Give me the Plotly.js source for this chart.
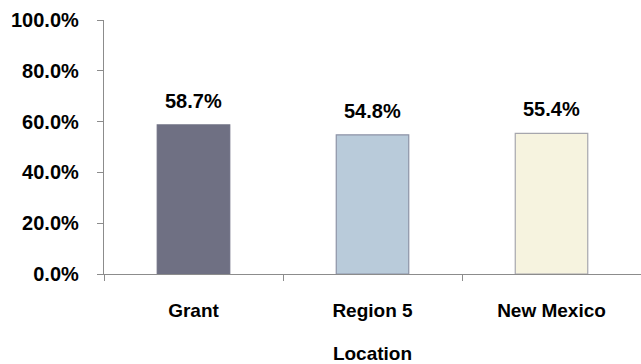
<!DOCTYPE html>
<html><head><meta charset="utf-8">
<script src="https://cdn.plot.ly/plotly-3.0.1.min.js"></script>
<style>html,body{margin:0;padding:0;background:#fff}#c{width:641px;height:364px}</style>
</head><body><div id="c"></div>
<script>
const categories = ["Grant", "Region 5", "New Mexico"];
const values = [58.7, 54.8, 55.4];
const fillColors = ["#6f7083", "#b9cbda", "#f6f3df"];
const lineColors = ["#6f7083", "#8d93a6", "#a6a6ad"];
const yTickVals = [0, 20, 40, 60, 80, 100];

const FONT = "Liberation Sans, Arial, sans-serif";
const trace = {
  type: "bar",
  x: categories,
  y: values,
  width: 0.405,
  marker: {color: fillColors, line: {color: lineColors, width: 1.2}},
  hoverinfo: "none"
};
const annotations = categories.map((c, i) => ({
  x: c, y: values[i], xref: "x", yref: "y",
  text: values[i].toFixed(1) + "%",
  showarrow: false, yanchor: "bottom", yshift: 11,
  font: {family: FONT, size: 20, color: "#000", weight: "bold"}
}));
const layout = {
  width: 641, height: 364,
  margin: {l: 104, r: 0, t: 20, b: 90},
  paper_bgcolor: "#fff", plot_bgcolor: "#fff",
  showlegend: false,
  font: {family: FONT, size: 20, color: "#000", weight: "bold"},
  xaxis: {
    showline: true, linecolor: "#8c8c8c", linewidth: 1.2,
    ticks: "outside", tickson: "boundaries", ticklen: 6, tickcolor: "#8c8c8c",
    tickfont: {family: FONT, size: 19, weight: "bold"},
    ticklabelstandoff: 19,
    title: {text: "Location", font: {family: FONT, size: 19, weight: "bold"}, standoff: 27},
    range: [-0.5, 2.5]
  },
  yaxis: {
    range: [0, 100], tickvals: yTickVals,
    ticktext: yTickVals.map(v => v.toFixed(1) + "%"),
    showgrid: false, zeroline: false,
    showline: true, linecolor: "#8c8c8c", linewidth: 1.2,
    ticks: "outside", ticklen: 6, tickcolor: "#8c8c8c",
    tickfont: {family: FONT, size: 20, weight: "bold"},
    ticklabelstandoff: 14
  },
  annotations: annotations
};
Plotly.newPlot("c", [trace], layout, {staticPlot: true});
</script>
</body></html>
